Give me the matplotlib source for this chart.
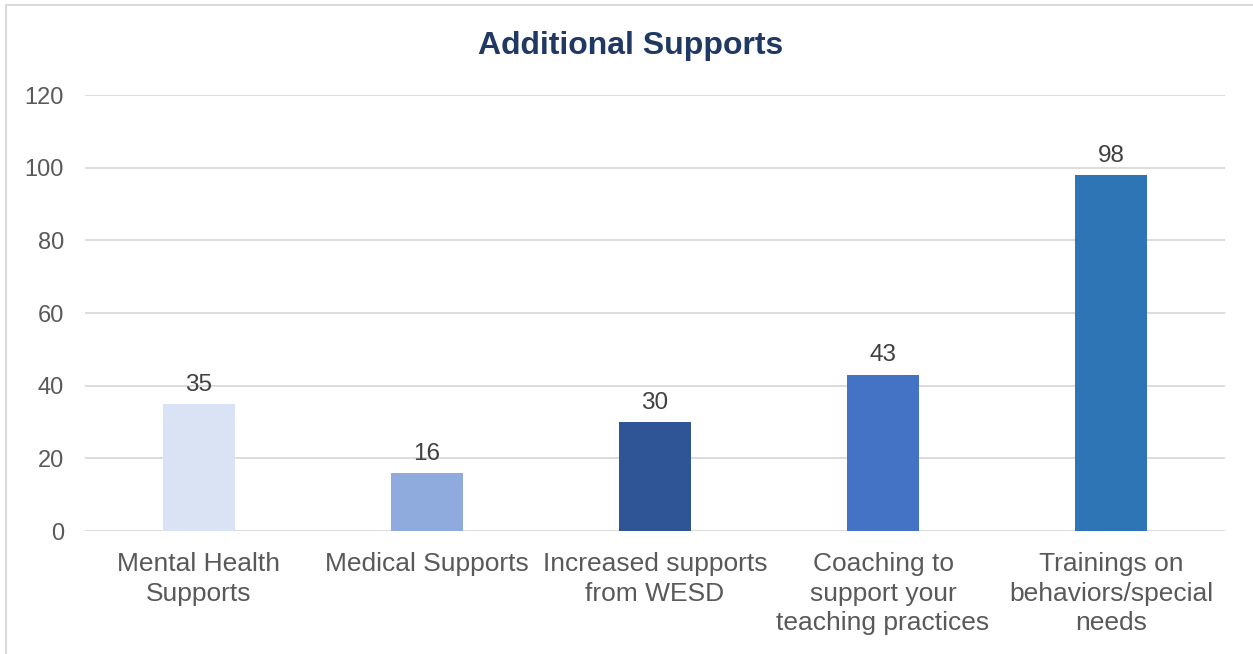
import matplotlib.pyplot as plt
from matplotlib.lines import Line2D

categories = [
    "Mental Health\nSupports",
    "Medical Supports",
    "Increased supports\nfrom WESD",
    "Coaching to\nsupport your\nteaching practices",
    "Trainings on\nbehaviors/special\nneeds",
]
counts = [35, 16, 30, 43, 98]
bar_colors = ["#DAE3F3", "#8FAADC", "#2F5597", "#4472C4", "#2E75B6"]
y_ticks = [0, 20, 40, 60, 80, 100, 120]

plt.rcParams["font.family"] = ["Liberation Sans", "DejaVu Sans"]

fig = plt.figure(figsize=(12.53, 6.54), dpi=100)
ax = fig.add_axes([0.0678, 0.188, 0.9099, 0.6667])

x = range(len(categories))
bars = ax.bar(x, counts, width=0.316, color=bar_colors, zorder=3)
for rect, val in zip(bars, counts):
    ax.annotate(str(val), (rect.get_x() + rect.get_width() / 2, val),
                xytext=(0, 6), textcoords="offset points",
                ha="center", va="bottom", fontsize=17.5, color="#404040")

ax.set_xlim(-0.5, len(categories) - 0.5)
ax.set_ylim(0, 120)
ax.set_yticks(y_ticks)
ax.set_xticks(list(x))
ax.set_xticklabels(categories, fontsize=19, color="#595959", linespacing=1.3)
ax.tick_params(axis="y", labelsize=17, labelcolor="#595959", length=0, pad=15)
ax.tick_params(axis="x", length=0, pad=15)
ax.grid(axis="y", color="#D9D9D9", linewidth=1.3, zorder=0)
for side in ["top", "right", "left", "bottom"]:
    ax.spines[side].set_visible(False)

fig.text(0.503, 0.929, "Additional Supports", ha="center", va="center",
         fontsize=23, fontweight="bold", color="#1F3864")

# chart frame (top and left edges)
fig.add_artist(Line2D([0.005, 1.0], [0.9925, 0.9925], color="#D9D9D9", linewidth=1.5))
fig.add_artist(Line2D([0.005, 0.005], [0.0, 0.9925], color="#D9D9D9", linewidth=1.5))

fig.savefig("out.png", dpi=100)
